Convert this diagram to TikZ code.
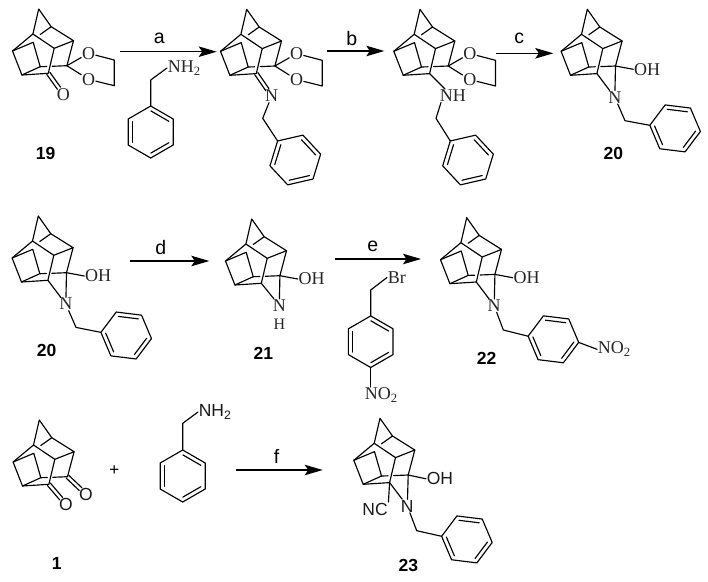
\documentclass[tikz,border=0pt]{standalone}
\usepackage{fontspec}
\setmainfont{Liberation Serif}
\setsansfont{Liberation Sans}
\usetikzlibrary{arrows.meta,calc}
\tikzset{
  bond/.style={line width=1.15pt,line join=round,line cap=round,black},
  rxn/.style={line width=1.15pt,-{Stealth[length=18pt,width=10.5pt,inset=3.5pt]},shorten >=0pt},
  atom/.style={font=\fontsize{18}{20}\selectfont\rmfamily,inner sep=0.6pt,text=black!85},
  satom/.style={font=\fontsize{17.5}{20}\selectfont\sffamily,inner sep=0.6pt,text=black!90},
  cond/.style={font=\fontsize{19.5}{21}\selectfont\sffamily,inner sep=0pt},
  cmpd/.style={font=\fontsize{17.5}{19}\selectfont\sffamily\bfseries,inner sep=0pt},
}
% cage with top vertex at (#2,#3); prefix #1
\newcommand\cage[3]{%
\begin{scope}[shift={(#2,#3)}]
 \coordinate (#1T) at (0,0);
 \coordinate (#1A) at (-5.8,25);
 \coordinate (#1B) at (12.5,17.7);
 \coordinate (#1C) at (34.8,31.7);
 \coordinate (#1D) at (-26.2,42);
 \coordinate (#1E) at (-5.5,33.3);
 \coordinate (#1F) at (15.5,39.3);
 \coordinate (#1G) at (1.5,57.7);
 \coordinate (#1H) at (-16.8,66);
 \coordinate (#1I) at (9.6,64.3);
 \coordinate (#1S) at (28.2,56.7);
 \coordinate (#1b) at (1.5,25.5);
 \coordinate (#1g) at (8,57.5);
 \coordinate (#1h) at (13.5,57.3);
 \draw[bond] (#1A)--(#1T)--(#1B)--(#1C)--(#1F)--(#1I)--(#1H)--(#1D)--(#1A)--(#1F);
 \draw[bond] (#1B)--(#1b);
 \draw[bond] (#1D)--(#1E)--(#1G)--(#1H);
 \draw[bond] (#1G)--(#1g);
 \draw[bond] (#1h)--(#1S)--(#1C);
\end{scope}}
% hexagon: vertices #10..#15, centre (#2,#3), rotation #4, radius #5
\newcommand\ring[5]{%
\begin{scope}[shift={(#2,#3)},rotate=#4,scale=#5/26]
 \coordinate (#10) at (0,-26);
 \coordinate (#11) at (22.5,-13);
 \coordinate (#12) at (22.5,13);
 \coordinate (#13) at (0,26);
 \coordinate (#14) at (-22.5,13);
 \coordinate (#15) at (-22.5,-13);
 \draw[bond] (#10)--(#11)--(#12)--(#13)--(#14)--(#15)--cycle;
 \draw[bond] ($(#10)!.1!(#11)+(-2.1,3.6)$)--($(#10)!.9!(#11)+(-2.1,3.6)$);
 \draw[bond] ($(#12)!.1!(#13)+(-2.1,-3.6)$)--($(#12)!.9!(#13)+(-2.1,-3.6)$);
 \draw[bond] ($(#14)!.1!(#15)+(4.2,0)$)--($(#14)!.9!(#15)+(4.2,0)$);
\end{scope}}
\newcommand\dbond[2]{%
 \draw[bond,shorten >=7.5pt] ($(#1)!1.9pt!90:(#2)$)--($(#2)!1.9pt!-90:(#1)$);
 \draw[bond,shorten >=7.5pt] ($(#1)!1.9pt!-90:(#2)$)--($(#2)!1.9pt!90:(#1)$);}
% dioxolane spiro ring on cage #1
\newcommand\dioxolane[3]{%
\begin{scope}[shift={(#2,#3)}]
 \node[atom] (#1Oa) at (49.8,44.3) {O};
 \node[atom] (#1Ob) at (49.8,70.3) {O};
 \coordinate (#1ca) at (75.5,51);
 \coordinate (#1cb) at (75.5,76.7);
\end{scope}
 \draw[bond] (#1S)--(#1Oa);
 \draw[bond] (#1S)--(#1Ob);
 \draw[bond] (#1Oa)--(#1ca)--(#1cb)--(#1Ob);}
\begin{document}
\begin{tikzpicture}[x=1pt,y=-1pt]
\useasboundingbox (0,0) rectangle (708,581);
% --- Row 1 ---
\cage{p}{38.7}{9}
\dioxolane{p}{38.7}{9}
\node[atom] (pO) at (63.3,94.3) {O};
\dbond{pI}{pO}
\node[cmpd] (n19) at (45.7,153.3) {19};
\draw[rxn] (120,51.7) coordinate (aS) -- (216.7,51.7) coordinate (aE);
\node[cond] (la) at (159.3,38) {a};
\node[atom,anchor=west] (aN) at (167,68) {NH\textsubscript{2}};
\coordinate (aC) at (150.7,80);
\ring{ar}{150.7}{132}{0}{26}
\draw[bond] (aN.west)--(aC)--(ar0);

\cage{q}{246.7}{9.3}
\dioxolane{q}{246.7}{9.3}
\node[atom] (qN) at (271.7,96) {N};
\dbond{qI}{qN}
\coordinate (qC) at (262.7,118.3);
\ring{qr}{295.3}{160}{-17}{26}
\draw[bond] (qN)--(qC)--(qr5);
\draw[rxn] (326.7,51) coordinate (bS) -- (384.3,51) coordinate (bE);
\node[cond] (lb) at (351.7,38.5) {b};

\cage{r}{420}{9.3}
\dioxolane{r}{420}{9.3}
\node[atom,anchor=west] (rN) at (439,96) {NH};
\coordinate (rNt) at (445,89);
\coordinate (rNb) at (441,102.5);
\coordinate (rC) at (436,118.3);
\ring{rr}{468}{160}{-17}{26}
\draw[bond] (rI)--(rNt);
\draw[bond] (rNb)--(rC)--(rr5);
\draw[rxn] (496,53.3) coordinate (cS) -- (553.3,53.3) coordinate (cE);
\node[cond] (lc) at (519.3,38.3) {c};

% aza bridge: #1 prefix
\newcommand\oh[3]{%
 \begin{scope}[shift={(#2,#3)}]
 \node[atom,anchor=west] (#1OH) at (46,60) {OH};
 \node[atom] (#1N) at (27.5,88) {N};
 \end{scope}
 \draw[bond] (#1S)--(#1OH.west);
 \draw[bond] (#1I)--(#1N);
 \draw[bond] (#1S)--(#1N);}

\cage{s}{587.3}{9.3}
\oh{s}{587.3}{9.3}
\coordinate (sC) at (625,120.7);
\ring{sr}{675.1}{128.4}{23}{25.5}
\draw[bond] (sN)--(sC)--(sr5);
\node[cmpd] (n20a) at (613.3,153.3) {20};

% --- Row 2 ---
\cage{t}{38.3}{216}
\oh{t}{38.3}{216}
\coordinate (tC) at (76,327.4);
\ring{tr}{126.2}{335.5}{23}{25.5}
\draw[bond] (tN)--(tC)--(tr5);
\node[cmpd] (n20b) at (46.7,350) {20};
\draw[rxn] (130,261) coordinate (dS) -- (209.3,261) coordinate (dE);
\node[cond] (ld) at (160.7,248) {d};

\cage{u}{251.7}{219}
\node[atom,anchor=west] (uOH) at (297.7,279) {OH};
\node[atom] (uN) at (279.3,305.5) {N};
\node[atom,font=\fontsize{16}{18}\selectfont\rmfamily] (uH) at (279.3,324) {H};
\draw[bond] (uS)--(uOH.west);
\draw[bond] (uI)--(uN);
\draw[bond] (uS)--(uN);
\node[cmpd] (n21) at (263.3,353.3) {21};
\draw[rxn] (335,259) coordinate (eS) -- (421,259) coordinate (eE);
\node[cond] (le) at (372.7,246) {e};
\node[atom,anchor=west] (vBr) at (387,277.5) {Br};
\coordinate (vC) at (370.7,290);
\ring{vr}{370.7}{341.7}{0}{25.8}
\node[atom,anchor=west] (vNO) at (364,395) {NO\textsubscript{2}};
\coordinate (vNt) at (370.7,387);
\draw[bond] (vBr.west)--(vC)--(vr0);
\draw[bond] (vr3)--(vNt);

\cage{w}{466.7}{217.7}
\oh{w}{466.7}{217.7}
\coordinate (wC) at (503.3,330);
\ring{wr}{553.4}{339.3}{23}{25.5}
\draw[bond] (wN)--(wC)--(wr5);
\node[atom,anchor=west] (wNO) at (597,349.3) {NO\textsubscript{2}};
\draw[bond] (wr2)--(wNO.west);
\node[cmpd] (n22) at (486.7,358.3) {22};

% --- Row 3 ---
\cage{x}{39.3}{420}
\node[satom] (xOa) at (86,494.3) {O};
\node[satom] (xOb) at (66,504.3) {O};
\dbond{xS}{xOa}
\dbond{xI}{xOb}
\node[cmpd] (n1) at (56.7,563.3) {1};
\node[cond,font=\fontsize{17}{19}\selectfont\sffamily] (plus) at (114.3,471) {+};
\node[satom,anchor=west] (yN) at (198,412) {NH\textsubscript{2}};
\coordinate (yC) at (182.7,423.3);
\ring{yr}{182.7}{476}{0}{26}
\draw[bond] (yN.west)--(yC)--(yr0);
\draw[rxn] (236,470) coordinate (fS) -- (322.7,470) coordinate (fE);
\node[cond] (lf) at (276.7,456.5) {f};

\cage{z}{380}{418.3}
\begin{scope}[shift={(380,418.3)}]
 \node[satom,anchor=west] (zOH) at (46,60.5) {OH};
 \node[satom] (zN) at (27.3,87.7) {N};
 \node[satom] (zNC) at (-5,90.7) {NC};
 \coordinate (zC) at (36.7,112.4);
\end{scope}
\draw[bond] (zS)--(zOH.west);
\draw[bond] (zI)--(zN);
\draw[bond] (zS)--(zN);
\draw[bond] (zI)--(zNC.north east);
\ring{zr}{466.9}{539.4}{23}{25.5}
\draw[bond] (zN)--(zC)--(zr5);
\node[cmpd] (n23) at (408.3,565.7) {23};
\end{tikzpicture}
\end{document}
